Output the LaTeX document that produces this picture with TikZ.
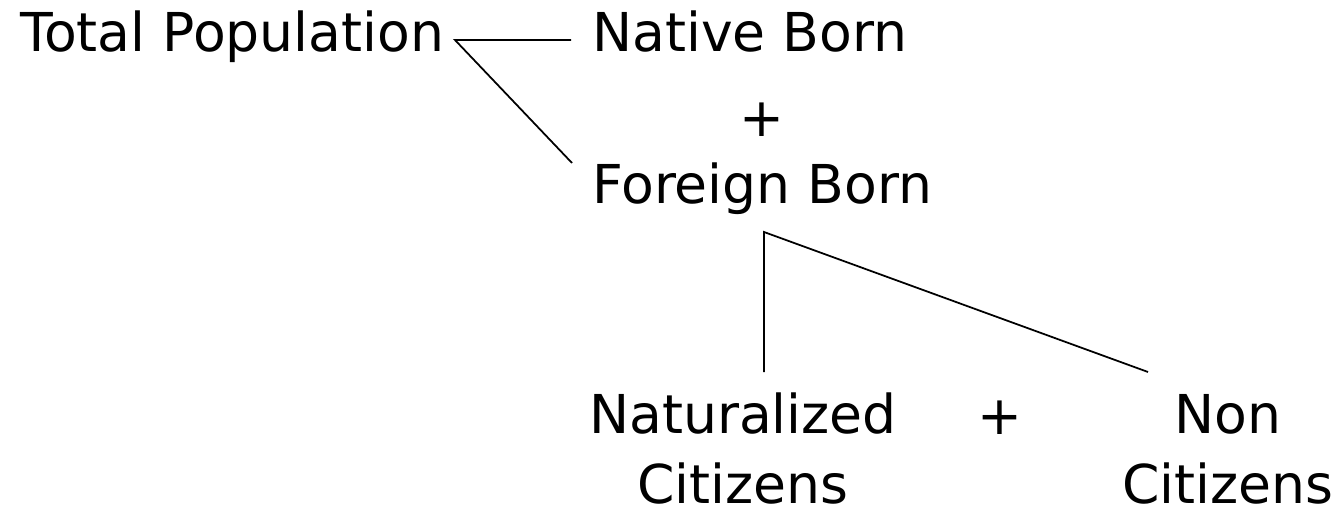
\documentclass[tikz,border=0pt]{standalone}
\usepackage{fontspec}
\setmainfont{DejaVu Sans}

\tikzset{
  lbl/.style={inner sep=0pt, font=\fontsize{30.5}{39.8}\selectfont},
  twig/.style={black, line width=1pt}
}

\begin{document}
\begin{tikzpicture}[x=0.02cm,y=-0.02cm]
      \useasboundingbox (0,0) rectangle (1340,517);
      \node[lbl,anchor=base west] (total) at (20,52) {Total Population};
      \node[lbl,anchor=base west] (native) at (592,52) {Native Born};
      \node[lbl,anchor=base] (plusTop) at (762,137) {+};
      \node[lbl,anchor=base west] (foreign) at (592,204) {Foreign Born};
      \node[lbl,anchor=base,align=center,text depth=0pt] (natur) at (743,503) {Naturalized\\Citizens};
      \node[lbl,anchor=base] (plusLow) at (1000,434) {+};
      \node[lbl,anchor=base,align=center,text depth=0pt] (noncit) at (1228,503) {Non\\Citizens};
      % ends of the twigs
      \coordinate (tj) at (455,40);
      \coordinate (nj) at (571,40);
      \coordinate (fj) at (572,163);
      \coordinate (fb) at (764,232);
      \coordinate (nb) at (764,372);
      \coordinate (cb) at (1148,372);
      \draw[twig] (fj) -- (tj) -- (nj);
      \draw[twig] (nb) -- (fb) -- (cb);
    \end{tikzpicture}
\end{document}
